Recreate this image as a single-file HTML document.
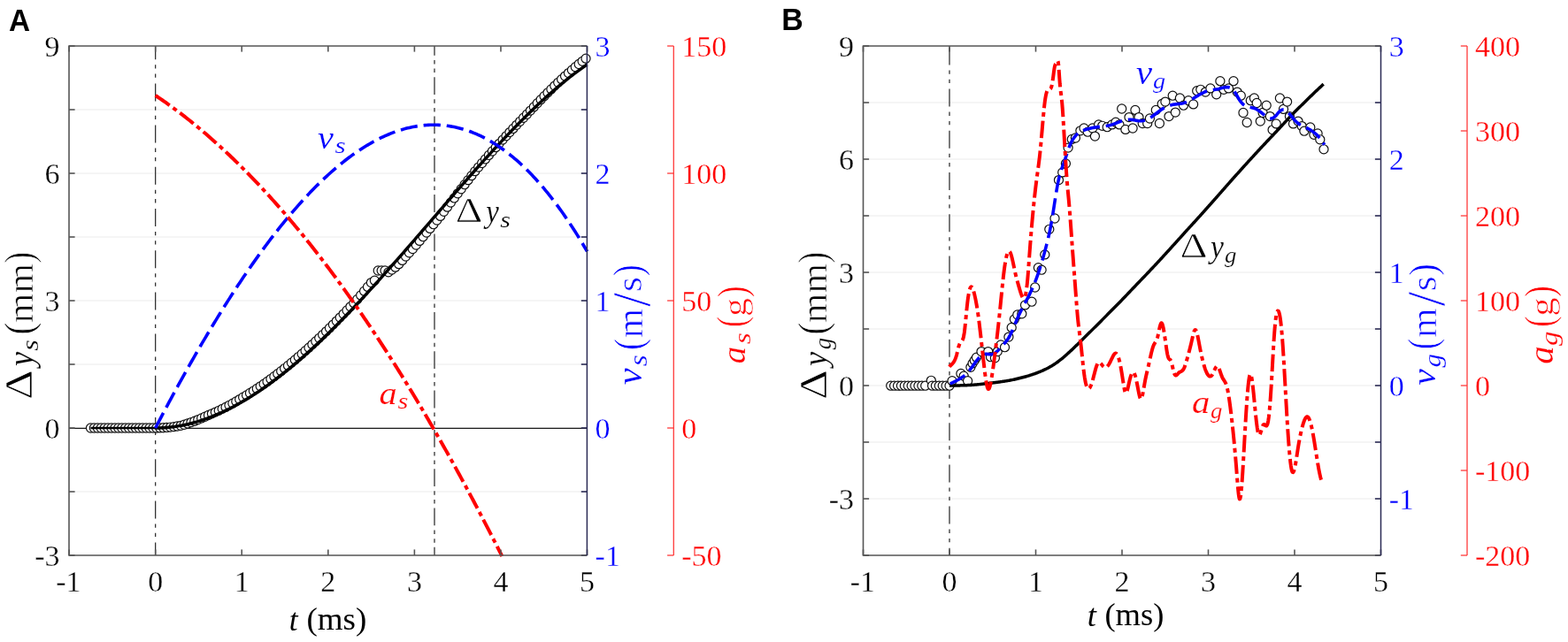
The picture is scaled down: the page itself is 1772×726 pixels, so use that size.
<!DOCTYPE html>
<html><head><meta charset="utf-8"><title>figure</title>
<style>
html,body{margin:0;padding:0;background:#fff;}
svg{display:block;}
.tk{font-family:'Liberation Serif', serif;font-size:34px;stroke:#fff;stroke-width:0.3px;}
.ml{font-family:'Liberation Serif', serif;font-size:38px;}
</style></head><body>
<svg width="1772" height="726" viewBox="0 0 1772 726">
<rect width="1772" height="726" fill="#fff"/>
<line x1="78" y1="556" x2="663.4" y2="556" stroke="#ebebeb" stroke-width="1.2"/>
<line x1="78" y1="484" x2="663.4" y2="484" stroke="#ebebeb" stroke-width="1.2"/>
<line x1="78" y1="412" x2="663.4" y2="412" stroke="#ebebeb" stroke-width="1.2"/>
<line x1="78" y1="340" x2="663.4" y2="340" stroke="#ebebeb" stroke-width="1.2"/>
<line x1="78" y1="268" x2="663.4" y2="268" stroke="#ebebeb" stroke-width="1.2"/>
<line x1="78" y1="196" x2="663.4" y2="196" stroke="#ebebeb" stroke-width="1.2"/>
<line x1="78" y1="124" x2="663.4" y2="124" stroke="#ebebeb" stroke-width="1.2"/>
<line x1="78" y1="484.4" x2="663.4" y2="484.4" stroke="#1a1a1a" stroke-width="1.3"/>
<line x1="175.65" y1="52" x2="175.65" y2="628" stroke="#333" stroke-width="1.3" stroke-dasharray="20 6 4.3 6 4.3 6.6" stroke-dashoffset="4.8"/>
<line x1="491" y1="52" x2="491" y2="628" stroke="#333" stroke-width="1.3" stroke-dasharray="19.8 5.2 4.5 5.2 4.5 5.1" stroke-dashoffset="9.1"/>
<g fill="#fff" stroke="#111" stroke-width="1.2">
<circle cx="102.47" cy="484" r="5.05"/>
<circle cx="106.38" cy="484" r="5.05"/>
<circle cx="110.29" cy="484" r="5.05"/>
<circle cx="114.2" cy="484" r="5.05"/>
<circle cx="118.12" cy="484" r="5.05"/>
<circle cx="122.03" cy="484" r="5.05"/>
<circle cx="125.94" cy="484" r="5.05"/>
<circle cx="129.86" cy="484" r="5.05"/>
<circle cx="133.77" cy="484" r="5.05"/>
<circle cx="137.68" cy="484" r="5.05"/>
<circle cx="141.59" cy="484" r="5.05"/>
<circle cx="145.51" cy="484" r="5.05"/>
<circle cx="149.42" cy="484" r="5.05"/>
<circle cx="153.33" cy="484" r="5.05"/>
<circle cx="157.25" cy="484" r="5.05"/>
<circle cx="161.16" cy="484" r="5.05"/>
<circle cx="165.07" cy="484" r="5.05"/>
<circle cx="168.99" cy="484" r="5.05"/>
<circle cx="172.9" cy="484" r="5.05"/>
<circle cx="176.81" cy="484" r="5.05"/>
<circle cx="180.72" cy="483.91" r="5.05"/>
<circle cx="184.64" cy="483.73" r="5.05"/>
<circle cx="188.55" cy="483.45" r="5.05"/>
<circle cx="192.46" cy="483.07" r="5.05"/>
<circle cx="196.38" cy="482.58" r="5.05"/>
<circle cx="200.29" cy="482.01" r="5.05"/>
<circle cx="204.2" cy="481.33" r="5.05"/>
<circle cx="208.11" cy="480.23" r="5.05"/>
<circle cx="212.03" cy="478.96" r="5.05"/>
<circle cx="215.94" cy="477.6" r="5.05"/>
<circle cx="219.85" cy="476.15" r="5.05"/>
<circle cx="223.77" cy="474.6" r="5.05"/>
<circle cx="227.68" cy="472.96" r="5.05"/>
<circle cx="231.59" cy="471.24" r="5.05"/>
<circle cx="235.51" cy="469.5" r="5.05"/>
<circle cx="239.42" cy="467.85" r="5.05"/>
<circle cx="243.33" cy="466.11" r="5.05"/>
<circle cx="247.24" cy="464.28" r="5.05"/>
<circle cx="251.16" cy="462.37" r="5.05"/>
<circle cx="255.07" cy="460.38" r="5.05"/>
<circle cx="258.98" cy="458.3" r="5.05"/>
<circle cx="262.9" cy="456.14" r="5.05"/>
<circle cx="266.81" cy="453.9" r="5.05"/>
<circle cx="270.72" cy="451.58" r="5.05"/>
<circle cx="274.64" cy="449.23" r="5.05"/>
<circle cx="278.55" cy="446.91" r="5.05"/>
<circle cx="282.46" cy="444.5" r="5.05"/>
<circle cx="286.37" cy="442.03" r="5.05"/>
<circle cx="290.29" cy="439.48" r="5.05"/>
<circle cx="294.2" cy="436.85" r="5.05"/>
<circle cx="298.11" cy="434.16" r="5.05"/>
<circle cx="302.03" cy="431.39" r="5.05"/>
<circle cx="305.94" cy="428.56" r="5.05"/>
<circle cx="309.85" cy="425.66" r="5.05"/>
<circle cx="313.76" cy="422.69" r="5.05"/>
<circle cx="317.68" cy="419.65" r="5.05"/>
<circle cx="321.59" cy="416.56" r="5.05"/>
<circle cx="325.5" cy="413.4" r="5.05"/>
<circle cx="329.42" cy="410.17" r="5.05"/>
<circle cx="333.33" cy="406.89" r="5.05"/>
<circle cx="337.24" cy="403.55" r="5.05"/>
<circle cx="341.16" cy="400.15" r="5.05"/>
<circle cx="345.07" cy="396.69" r="5.05"/>
<circle cx="348.98" cy="393.18" r="5.05"/>
<circle cx="352.89" cy="389.61" r="5.05"/>
<circle cx="356.81" cy="385.99" r="5.05"/>
<circle cx="360.72" cy="382.32" r="5.05"/>
<circle cx="364.63" cy="378.6" r="5.05"/>
<circle cx="368.55" cy="374.84" r="5.05"/>
<circle cx="372.46" cy="371" r="5.05"/>
<circle cx="376.37" cy="367.08" r="5.05"/>
<circle cx="380.29" cy="363.12" r="5.05"/>
<circle cx="384.2" cy="359.11" r="5.05"/>
<circle cx="388.11" cy="355.07" r="5.05"/>
<circle cx="392.02" cy="350.98" r="5.05"/>
<circle cx="395.94" cy="346.85" r="5.05"/>
<circle cx="399.85" cy="342.69" r="5.05"/>
<circle cx="403.76" cy="338.49" r="5.05"/>
<circle cx="407.68" cy="333.93" r="5.05"/>
<circle cx="411.59" cy="329.19" r="5.05"/>
<circle cx="415.5" cy="324.41" r="5.05"/>
<circle cx="419.41" cy="319.61" r="5.05"/>
<circle cx="423.33" cy="317.2" r="5.05"/>
<circle cx="427.24" cy="306" r="5.05"/>
<circle cx="431.15" cy="306" r="5.05"/>
<circle cx="435.07" cy="306" r="5.05"/>
<circle cx="438.98" cy="307.78" r="5.05"/>
<circle cx="442.89" cy="304.98" r="5.05"/>
<circle cx="446.81" cy="302.15" r="5.05"/>
<circle cx="450.72" cy="298.65" r="5.05"/>
<circle cx="454.63" cy="294.38" r="5.05"/>
<circle cx="458.54" cy="290.1" r="5.05"/>
<circle cx="462.46" cy="285.81" r="5.05"/>
<circle cx="466.37" cy="281.51" r="5.05"/>
<circle cx="470.28" cy="277.03" r="5.05"/>
<circle cx="474.2" cy="272.38" r="5.05"/>
<circle cx="478.11" cy="267.72" r="5.05"/>
<circle cx="482.02" cy="263.06" r="5.05"/>
<circle cx="485.93" cy="258.39" r="5.05"/>
<circle cx="489.85" cy="253.72" r="5.05"/>
<circle cx="493.76" cy="249.06" r="5.05"/>
<circle cx="497.67" cy="244.39" r="5.05"/>
<circle cx="501.59" cy="239.27" r="5.05"/>
<circle cx="505.5" cy="234.15" r="5.05"/>
<circle cx="509.41" cy="229.03" r="5.05"/>
<circle cx="513.33" cy="223.93" r="5.05"/>
<circle cx="517.24" cy="218.84" r="5.05"/>
<circle cx="521.15" cy="213.76" r="5.05"/>
<circle cx="525.06" cy="208.7" r="5.05"/>
<circle cx="528.98" cy="203.65" r="5.05"/>
<circle cx="532.89" cy="198.63" r="5.05"/>
<circle cx="536.8" cy="193.63" r="5.05"/>
<circle cx="540.72" cy="189.05" r="5.05"/>
<circle cx="544.63" cy="184.49" r="5.05"/>
<circle cx="548.54" cy="179.96" r="5.05"/>
<circle cx="552.46" cy="175.45" r="5.05"/>
<circle cx="556.37" cy="170.98" r="5.05"/>
<circle cx="560.28" cy="166.64" r="5.05"/>
<circle cx="564.19" cy="162.33" r="5.05"/>
<circle cx="568.11" cy="158.05" r="5.05"/>
<circle cx="572.02" cy="153.81" r="5.05"/>
<circle cx="575.93" cy="149.62" r="5.05"/>
<circle cx="579.85" cy="145.46" r="5.05"/>
<circle cx="583.76" cy="141.35" r="5.05"/>
<circle cx="587.67" cy="137.28" r="5.05"/>
<circle cx="591.58" cy="133.26" r="5.05"/>
<circle cx="595.5" cy="129.27" r="5.05"/>
<circle cx="599.41" cy="125.05" r="5.05"/>
<circle cx="603.32" cy="120.88" r="5.05"/>
<circle cx="607.24" cy="116.77" r="5.05"/>
<circle cx="611.15" cy="112.72" r="5.05"/>
<circle cx="615.06" cy="108.72" r="5.05"/>
<circle cx="618.98" cy="104.79" r="5.05"/>
<circle cx="622.89" cy="100.91" r="5.05"/>
<circle cx="626.8" cy="97.11" r="5.05"/>
<circle cx="630.71" cy="93.37" r="5.05"/>
<circle cx="634.63" cy="89.7" r="5.05"/>
<circle cx="638.54" cy="86.11" r="5.05"/>
<circle cx="642.45" cy="82.59" r="5.05"/>
<circle cx="646.37" cy="79.14" r="5.05"/>
<circle cx="650.28" cy="75.77" r="5.05"/>
<circle cx="654.19" cy="72.48" r="5.05"/>
<circle cx="658.11" cy="69.28" r="5.05"/>
<circle cx="662.02" cy="66.16" r="5.05"/>
</g>
<line x1="102.47" y1="484" x2="175.65" y2="484" stroke="#000" stroke-width="2.6"/>
<polyline points="175.65,484 175.65,484 178.09,483.98 180.53,483.92 182.97,483.82 185.41,483.68 187.85,483.51 190.29,483.29 192.73,483.04 195.17,482.74 197.61,482.41 200.05,482.05 202.48,481.64 204.92,481.2 207.36,480.71 209.8,480.2 212.24,479.64 214.68,479.05 217.12,478.42 219.56,477.76 222,477.06 224.44,476.33 226.88,475.56 229.32,474.75 231.76,473.91 234.2,473.04 236.64,472.13 239.08,471.19 241.52,470.21 243.96,469.2 246.4,468.15 248.84,467.08 251.27,465.97 253.71,464.83 256.15,463.65 258.59,462.45 261.03,461.21 263.47,459.94 265.91,458.64 268.35,457.3 270.79,455.94 273.23,454.55 275.67,453.12 278.11,451.67 280.55,450.19 282.99,448.67 285.43,447.13 287.87,445.56 290.31,443.96 292.75,442.34 295.19,440.68 297.62,439 300.06,437.29 302.5,435.55 304.94,433.79 307.38,432 309.82,430.18 312.26,428.34 314.7,426.47 317.14,424.57 319.58,422.66 322.02,420.71 324.46,418.75 326.9,416.75 329.34,414.74 331.78,412.7 334.22,410.64 336.66,408.55 339.1,406.44 341.54,404.31 343.98,402.16 346.41,399.99 348.85,397.79 351.29,395.58 353.73,393.34 356.17,391.08 358.61,388.81 361.05,386.51 363.49,384.19 365.93,381.86 368.37,379.51 370.81,377.13 373.25,374.75 375.69,372.34 378.13,369.91 380.57,367.47 383.01,365.01 385.45,362.54 387.89,360.05 390.33,357.54 392.77,355.02 395.21,352.48 397.64,349.93 400.08,347.37 402.52,344.79 404.96,342.2 407.4,339.59 409.84,336.97 412.28,334.34 414.72,331.7 417.16,329.05 419.6,326.38 422.04,323.71 424.48,321.02 426.92,318.32 429.36,315.61 431.8,312.9 434.24,310.17 436.68,307.44 439.12,304.7 441.56,301.95 444,299.19 446.43,296.42 448.87,293.65 451.31,290.87 453.75,288.09 456.19,285.3 458.63,282.5 461.07,279.7 463.51,276.9 465.95,274.09 468.39,271.28 470.83,268.47 473.27,265.65 475.71,262.83 478.15,260.01 480.59,257.18 483.03,254.36 485.47,251.53 487.91,248.71 490.35,245.88 492.78,243.05 495.22,240.23 497.66,237.41 500.1,234.58 502.54,231.76 504.98,228.95 507.42,226.13 509.86,223.32 512.3,220.52 514.74,217.71 517.18,214.92 519.62,212.12 522.06,209.34 524.5,206.56 526.94,203.78 529.38,201.01 531.82,198.25 534.26,195.5 536.7,192.76 539.14,190.02 541.58,187.29 544.01,184.58 546.45,181.87 548.89,179.17 551.33,176.49 553.77,173.81 556.21,171.15 558.65,168.5 561.09,165.87 563.53,163.24 565.97,160.63 568.41,158.03 570.85,155.45 573.29,152.89 575.73,150.34 578.17,147.8 580.61,145.28 583.05,142.78 585.49,140.3 587.93,137.83 590.37,135.38 592.8,132.95 595.24,130.55 597.68,128.16 600.12,125.79 602.56,123.44 605,121.11 607.44,118.81 609.88,116.52 612.32,114.26 614.76,112.03 617.2,109.81 619.64,107.62 622.08,105.46 624.52,103.32 626.96,101.21 629.4,99.12 631.84,97.06 634.28,95.03 636.72,93.03 639.15,91.05 641.59,89.1 644.03,87.18 646.47,85.3 648.91,83.44 651.35,81.61 653.79,79.82 656.23,78.05 658.67,76.32 661.11,74.63 663.55,72.96" fill="none" stroke="#000" stroke-width="3.5" stroke-linejoin="round"/>
<polyline points="175.65,484 177.6,480.26 179.55,476.53 181.5,472.81 183.46,469.11 185.41,465.43 187.36,461.75 189.31,458.1 191.26,454.45 193.21,450.83 195.17,447.21 197.12,443.61 199.07,440.03 201.02,436.46 202.97,432.91 204.92,429.37 206.88,425.85 208.83,422.35 210.78,418.86 212.73,415.38 214.68,411.93 216.63,408.49 218.59,405.06 220.54,401.65 222.49,398.26 224.44,394.88 226.39,391.52 228.34,388.18 230.29,384.86 232.25,381.55 234.2,378.26 236.15,374.99 238.1,371.73 240.05,368.49 242,365.27 243.96,362.07 245.91,358.89 247.86,355.72 249.81,352.57 251.76,349.44 253.71,346.33 255.67,343.24 257.62,340.16 259.57,337.11 261.52,334.07 263.47,331.05 265.42,328.05 267.38,325.07 269.33,322.11 271.28,319.17 273.23,316.25 275.18,313.35 277.13,310.47 279.08,307.61 281.04,304.77 282.99,301.94 284.94,299.14 286.89,296.36 288.84,293.6 290.79,290.86 292.75,288.15 294.7,285.45 296.65,282.77 298.6,280.11 300.55,277.48 302.5,274.87 304.46,272.28 306.41,269.71 308.36,267.16 310.31,264.63 312.26,262.13 314.21,259.64 316.17,257.18 318.12,254.74 320.07,252.33 322.02,249.94 323.97,247.57 325.92,245.22 327.87,242.89 329.83,240.59 331.78,238.31 333.73,236.06 335.68,233.82 337.63,231.62 339.58,229.43 341.54,227.27 343.49,225.13 345.44,223.02 347.39,220.93 349.34,218.86 351.29,216.82 353.25,214.8 355.2,212.81 357.15,210.84 359.1,208.9 361.05,206.98 363,205.09 364.96,203.22 366.91,201.38 368.86,199.56 370.81,197.77 372.76,196 374.71,194.26 376.66,192.54 378.62,190.86 380.57,189.19 382.52,187.55 384.47,185.94 386.42,184.36 388.37,182.8 390.33,181.27 392.28,179.77 394.23,178.29 396.18,176.84 398.13,175.41 400.08,174.02 402.04,172.65 403.99,171.31 405.94,169.99 407.89,168.71 409.84,167.45 411.79,166.22 413.75,165.01 415.7,163.84 417.65,162.69 419.6,161.58 421.55,160.49 423.5,159.43 425.45,158.39 427.41,157.39 429.36,156.42 431.31,155.47 433.26,154.56 435.21,153.67 437.16,152.81 439.12,151.98 441.07,151.19 443.02,150.42 444.97,149.68 446.92,148.97 448.87,148.29 450.83,147.64 452.78,147.03 454.73,146.44 456.68,145.88 458.63,145.36 460.58,144.86 462.54,144.4 464.49,143.97 466.44,143.56 468.39,143.19 470.34,142.86 472.29,142.55 474.24,142.27 476.2,142.03 478.15,141.82 480.1,141.64 482.05,141.49 484,141.37 485.95,141.29 487.91,141.24 489.86,141.22 491.81,141.23 493.76,141.28 495.71,141.36 497.66,141.47 499.62,141.62 501.57,141.8 503.52,142.01 505.47,142.26 507.42,142.54 509.37,142.86 511.33,143.2 513.28,143.59 515.23,144 517.18,144.45 519.13,144.94 521.08,145.46 523.03,146.01 524.99,146.6 526.94,147.22 528.89,147.88 530.84,148.57 532.79,149.3 534.74,150.07 536.7,150.87 538.65,151.7 540.6,152.57 542.55,153.48 544.5,154.42 546.45,155.4 548.41,156.41 550.36,157.46 552.31,158.55 554.26,159.67 556.21,160.83 558.16,162.03 560.12,163.26 562.07,164.53 564.02,165.84 565.97,167.18 567.92,168.56 569.87,169.98 571.82,171.44 573.78,172.93 575.73,174.47 577.68,176.04 579.63,177.64 581.58,179.29 583.53,180.97 585.49,182.7 587.44,184.46 589.39,186.26 591.34,188.09 593.29,189.97 595.24,191.89 597.2,193.84 599.15,195.84 601.1,197.87 603.05,199.94 605,202.06 606.95,204.21 608.91,206.4 610.86,208.63 612.81,210.9 614.76,213.21 616.71,215.57 618.66,217.96 620.61,220.39 622.57,222.86 624.52,225.38 626.47,227.93 628.42,230.53 630.37,233.17 632.32,235.84 634.28,238.56 636.23,241.32 638.18,244.12 640.13,246.97 642.08,249.85 644.03,252.78 645.99,255.75 647.94,258.76 649.89,261.81 651.84,264.91 653.79,268.05 655.74,271.23 657.7,274.45 659.65,277.72 661.6,281.03 663.55,284.38" fill="none" stroke="#0000ff" stroke-width="3.6" stroke-dasharray="19.3 6.9"/>
<polyline points="175.65,107.95 177.6,109.25 179.55,110.58 181.5,111.91 183.46,113.25 185.41,114.61 187.36,115.99 189.31,117.37 191.26,118.77 193.21,120.18 195.17,121.6 197.12,123.04 199.07,124.49 201.02,125.95 202.97,127.43 204.92,128.91 206.88,130.41 208.83,131.93 210.78,133.46 212.73,134.99 214.68,136.55 216.63,138.11 218.59,139.69 220.54,141.28 222.49,142.89 224.44,144.5 226.39,146.13 228.34,147.78 230.29,149.43 232.25,151.1 234.2,152.78 236.15,154.48 238.1,156.18 240.05,157.91 242,159.64 243.96,161.38 245.91,163.14 247.86,164.92 249.81,166.7 251.76,168.5 253.71,170.31 255.67,172.13 257.62,173.97 259.57,175.82 261.52,177.68 263.47,179.56 265.42,181.44 267.38,183.34 269.33,185.26 271.28,187.19 273.23,189.13 275.18,191.08 277.13,193.04 279.08,195.02 281.04,197.01 282.99,199.02 284.94,201.03 286.89,203.06 288.84,205.11 290.79,207.16 292.75,209.23 294.7,211.31 296.65,213.41 298.6,215.52 300.55,217.64 302.5,219.77 304.46,221.92 306.41,224.07 308.36,226.25 310.31,228.43 312.26,230.63 314.21,232.84 316.17,235.06 318.12,237.3 320.07,239.55 322.02,241.81 323.97,244.09 325.92,246.38 327.87,248.68 329.83,250.99 331.78,253.32 333.73,255.66 335.68,258.01 337.63,260.37 339.58,262.75 341.54,265.14 343.49,267.55 345.44,269.97 347.39,272.4 349.34,274.84 351.29,277.29 353.25,279.76 355.2,282.25 357.15,284.74 359.1,287.25 361.05,289.77 363,292.3 364.96,294.85 366.91,297.41 368.86,299.98 370.81,302.56 372.76,305.16 374.71,307.77 376.66,310.4 378.62,313.03 380.57,315.68 382.52,318.34 384.47,321.02 386.42,323.71 388.37,326.41 390.33,329.12 392.28,331.85 394.23,334.59 396.18,337.34 398.13,340.11 400.08,342.89 402.04,345.68 403.99,348.48 405.94,351.3 407.89,354.13 409.84,356.97 411.79,359.83 413.75,362.7 415.7,365.58 417.65,368.47 419.6,371.38 421.55,374.3 423.5,377.23 425.45,380.18 427.41,383.14 429.36,386.11 431.31,389.1 433.26,392.09 435.21,395.11 437.16,398.13 439.12,401.17 441.07,404.21 443.02,407.28 444.97,410.35 446.92,413.44 448.87,416.54 450.83,419.66 452.78,422.78 454.73,425.92 456.68,429.08 458.63,432.24 460.58,435.42 462.54,438.61 464.49,441.82 466.44,445.03 468.39,448.26 470.34,451.51 472.29,454.76 474.24,458.03 476.2,461.31 478.15,464.61 480.1,467.91 482.05,471.23 484,474.57 485.95,477.91 487.91,481.27 489.86,484.65 491.81,488.03 493.76,491.43 495.71,494.84 497.66,498.26 499.62,501.7 501.57,505.15 503.52,508.61 505.47,512.09 507.42,515.58 509.37,519.08 511.33,522.59 513.28,526.12 515.23,529.66 517.18,533.21 519.13,536.78 521.08,540.35 523.03,543.95 524.99,547.55 526.94,551.17 528.89,554.8 530.84,558.44 532.79,562.1 534.74,565.77 536.7,569.45 538.65,573.14 540.6,576.85 542.55,580.57 544.5,584.3 546.45,588.05 548.41,591.81 550.36,595.58 552.31,599.37 554.26,603.16 556.21,606.97 558.16,610.8 560.12,614.63 562.07,618.48 564.02,622.35 565.97,626.22 567.36,629" fill="none" stroke="#ff0000" stroke-width="4" stroke-dasharray="19.5 4.8 5 4.7"/>
<line x1="78" y1="628" x2="84.6" y2="628" stroke="#555555" stroke-width="1.6"/>
<line x1="656.8" y1="628" x2="663.4" y2="628" stroke="#2b2b55" stroke-width="1.6"/>
<line x1="78" y1="556" x2="84.6" y2="556" stroke="#555555" stroke-width="1.6"/>
<line x1="656.8" y1="556" x2="663.4" y2="556" stroke="#2b2b55" stroke-width="1.6"/>
<line x1="78" y1="484" x2="84.6" y2="484" stroke="#555555" stroke-width="1.6"/>
<line x1="656.8" y1="484" x2="663.4" y2="484" stroke="#2b2b55" stroke-width="1.6"/>
<line x1="78" y1="412" x2="84.6" y2="412" stroke="#555555" stroke-width="1.6"/>
<line x1="656.8" y1="412" x2="663.4" y2="412" stroke="#2b2b55" stroke-width="1.6"/>
<line x1="78" y1="340" x2="84.6" y2="340" stroke="#555555" stroke-width="1.6"/>
<line x1="656.8" y1="340" x2="663.4" y2="340" stroke="#2b2b55" stroke-width="1.6"/>
<line x1="78" y1="268" x2="84.6" y2="268" stroke="#555555" stroke-width="1.6"/>
<line x1="656.8" y1="268" x2="663.4" y2="268" stroke="#2b2b55" stroke-width="1.6"/>
<line x1="78" y1="196" x2="84.6" y2="196" stroke="#555555" stroke-width="1.6"/>
<line x1="656.8" y1="196" x2="663.4" y2="196" stroke="#2b2b55" stroke-width="1.6"/>
<line x1="78" y1="124" x2="84.6" y2="124" stroke="#555555" stroke-width="1.6"/>
<line x1="656.8" y1="124" x2="663.4" y2="124" stroke="#2b2b55" stroke-width="1.6"/>
<line x1="78" y1="52" x2="84.6" y2="52" stroke="#555555" stroke-width="1.6"/>
<line x1="656.8" y1="52" x2="663.4" y2="52" stroke="#2b2b55" stroke-width="1.6"/>
<line x1="78.07" y1="52" x2="78.07" y2="58.6" stroke="#555555" stroke-width="1.6"/>
<line x1="78.07" y1="621.4" x2="78.07" y2="628" stroke="#555555" stroke-width="1.6"/>
<line x1="175.65" y1="52" x2="175.65" y2="58.6" stroke="#555555" stroke-width="1.6"/>
<line x1="175.65" y1="621.4" x2="175.65" y2="628" stroke="#555555" stroke-width="1.6"/>
<line x1="273.23" y1="52" x2="273.23" y2="58.6" stroke="#555555" stroke-width="1.6"/>
<line x1="273.23" y1="621.4" x2="273.23" y2="628" stroke="#555555" stroke-width="1.6"/>
<line x1="370.81" y1="52" x2="370.81" y2="58.6" stroke="#555555" stroke-width="1.6"/>
<line x1="370.81" y1="621.4" x2="370.81" y2="628" stroke="#555555" stroke-width="1.6"/>
<line x1="468.39" y1="52" x2="468.39" y2="58.6" stroke="#555555" stroke-width="1.6"/>
<line x1="468.39" y1="621.4" x2="468.39" y2="628" stroke="#555555" stroke-width="1.6"/>
<line x1="565.97" y1="52" x2="565.97" y2="58.6" stroke="#555555" stroke-width="1.6"/>
<line x1="565.97" y1="621.4" x2="565.97" y2="628" stroke="#555555" stroke-width="1.6"/>
<line x1="663.55" y1="52" x2="663.55" y2="58.6" stroke="#555555" stroke-width="1.6"/>
<line x1="663.55" y1="621.4" x2="663.55" y2="628" stroke="#555555" stroke-width="1.6"/>
<path d="M663.4,52 H78 V628 H663.4" fill="none" stroke="#555555" stroke-width="1.6"/>
<line x1="663.4" y1="52" x2="663.4" y2="628" stroke="#2b2b55" stroke-width="1.5"/>
<line x1="761.3" y1="52" x2="761.3" y2="628" stroke="#ff3a3a" stroke-width="1.3"/>
<line x1="754.1" y1="52" x2="761.3" y2="52" stroke="#ff3a3a" stroke-width="1.3"/>
<line x1="754.1" y1="196" x2="761.3" y2="196" stroke="#ff3a3a" stroke-width="1.3"/>
<line x1="754.1" y1="340" x2="761.3" y2="340" stroke="#ff3a3a" stroke-width="1.3"/>
<line x1="754.1" y1="484" x2="761.3" y2="484" stroke="#ff3a3a" stroke-width="1.3"/>
<line x1="754.1" y1="628" x2="761.3" y2="628" stroke="#ff3a3a" stroke-width="1.3"/>
<text x="77.47" y="669.3" text-anchor="middle" class="tk">-1</text>
<text x="175.65" y="669.3" text-anchor="middle" class="tk">0</text>
<text x="273.23" y="669.3" text-anchor="middle" class="tk">1</text>
<text x="370.81" y="669.3" text-anchor="middle" class="tk">2</text>
<text x="468.39" y="669.3" text-anchor="middle" class="tk">3</text>
<text x="565.97" y="669.3" text-anchor="middle" class="tk">4</text>
<text x="663.55" y="669.3" text-anchor="middle" class="tk">5</text>
<text x="67.5" y="63.8" text-anchor="end" class="tk">9</text>
<text x="67.5" y="207.8" text-anchor="end" class="tk">6</text>
<text x="67.5" y="351.8" text-anchor="end" class="tk">3</text>
<text x="67.5" y="495.8" text-anchor="end" class="tk">0</text>
<text x="67.5" y="639.8" text-anchor="end" class="tk">-3</text>
<text x="672.6" y="63.8" class="tk" fill="#0000ff">3</text>
<text x="672.6" y="207.8" class="tk" fill="#0000ff">2</text>
<text x="672.6" y="351.8" class="tk" fill="#0000ff">1</text>
<text x="672.6" y="495.8" class="tk" fill="#0000ff">0</text>
<text x="672.6" y="639.8" class="tk" fill="#0000ff">-1</text>
<text x="770.3" y="63.8" class="tk" fill="#ff0000">150</text>
<text x="770.3" y="207.8" class="tk" fill="#ff0000">100</text>
<text x="770.3" y="351.8" class="tk" fill="#ff0000">50</text>
<text x="770.3" y="495.8" class="tk" fill="#ff0000">0</text>
<text x="770.3" y="639.8" class="tk" fill="#ff0000">-50</text>
<line x1="975.5" y1="564" x2="1560.5" y2="564" stroke="#ebebeb" stroke-width="1.2"/>
<line x1="975.5" y1="500" x2="1560.5" y2="500" stroke="#ebebeb" stroke-width="1.2"/>
<line x1="975.5" y1="436" x2="1560.5" y2="436" stroke="#ebebeb" stroke-width="1.2"/>
<line x1="975.5" y1="372" x2="1560.5" y2="372" stroke="#ebebeb" stroke-width="1.2"/>
<line x1="975.5" y1="308" x2="1560.5" y2="308" stroke="#ebebeb" stroke-width="1.2"/>
<line x1="975.5" y1="244" x2="1560.5" y2="244" stroke="#ebebeb" stroke-width="1.2"/>
<line x1="975.5" y1="180" x2="1560.5" y2="180" stroke="#ebebeb" stroke-width="1.2"/>
<line x1="975.5" y1="116" x2="1560.5" y2="116" stroke="#ebebeb" stroke-width="1.2"/>
<line x1="1073" y1="52" x2="1073" y2="628" stroke="#333" stroke-width="1.3" stroke-dasharray="20 6 4.3 6 4.3 6.6" stroke-dashoffset="45.8"/>
<g fill="#fff" stroke="#111" stroke-width="1.2">
<circle cx="1006.7" cy="436.2" r="5.05"/>
<circle cx="1010.6" cy="436.2" r="5.05"/>
<circle cx="1014.5" cy="436.2" r="5.05"/>
<circle cx="1018.4" cy="436.2" r="5.05"/>
<circle cx="1022.3" cy="436.2" r="5.05"/>
<circle cx="1026.2" cy="436.2" r="5.05"/>
<circle cx="1030.1" cy="436.2" r="5.05"/>
<circle cx="1034" cy="436.2" r="5.05"/>
<circle cx="1037.9" cy="436.2" r="5.05"/>
<circle cx="1041.8" cy="436.2" r="5.05"/>
<circle cx="1045.7" cy="436.2" r="5.05"/>
<circle cx="1052.3" cy="430.3" r="5.05"/>
<circle cx="1053.5" cy="436.2" r="5.05"/>
<circle cx="1057.4" cy="436.2" r="5.05"/>
<circle cx="1061.3" cy="436.2" r="5.05"/>
<circle cx="1065.2" cy="436.2" r="5.05"/>
<circle cx="1069.1" cy="436.2" r="5.05"/>
<circle cx="1073" cy="436.2" r="5.05"/>
<circle cx="1076" cy="430.7" r="5.05"/>
<circle cx="1085.9" cy="422.4" r="5.05"/>
<circle cx="1089.2" cy="425.2" r="5.05"/>
<circle cx="1093.6" cy="430.7" r="5.05"/>
<circle cx="1096.9" cy="415.3" r="5.05"/>
<circle cx="1099.1" cy="410.9" r="5.05"/>
<circle cx="1101.3" cy="407.5" r="5.05"/>
<circle cx="1103.5" cy="404.2" r="5.05"/>
<circle cx="1109" cy="397.6" r="5.05"/>
<circle cx="1116.7" cy="397.6" r="5.05"/>
<circle cx="1119.5" cy="403.7" r="5.05"/>
<circle cx="1124.4" cy="404.8" r="5.05"/>
<circle cx="1127.2" cy="397.6" r="5.05"/>
<circle cx="1131" cy="389.9" r="5.05"/>
<circle cx="1135.5" cy="392.7" r="5.05"/>
<circle cx="1139.9" cy="381.1" r="5.05"/>
<circle cx="1143.2" cy="370.4" r="5.05"/>
<circle cx="1146.4" cy="360.9" r="5.05"/>
<circle cx="1149.8" cy="356" r="5.05"/>
<circle cx="1154.8" cy="354.8" r="5.05"/>
<circle cx="1158.5" cy="344.9" r="5.05"/>
<circle cx="1166" cy="341.2" r="5.05"/>
<circle cx="1169.7" cy="325" r="5.05"/>
<circle cx="1173.4" cy="302.7" r="5.05"/>
<circle cx="1177.1" cy="305.2" r="5.05"/>
<circle cx="1180.8" cy="287.9" r="5.05"/>
<circle cx="1185.8" cy="259.3" r="5.05"/>
<circle cx="1192" cy="247" r="5.05"/>
<circle cx="1196.5" cy="203.6" r="5.05"/>
<circle cx="1200.7" cy="194.9" r="5.05"/>
<circle cx="1204.4" cy="185" r="5.05"/>
<circle cx="1207.1" cy="167.1" r="5.05"/>
<circle cx="1211.3" cy="157.4" r="5.05"/>
<circle cx="1215.4" cy="156" r="5.05"/>
<circle cx="1220.9" cy="147.8" r="5.05"/>
<circle cx="1225" cy="145" r="5.05"/>
<circle cx="1229.2" cy="149.2" r="5.05"/>
<circle cx="1234.7" cy="145" r="5.05"/>
<circle cx="1237.4" cy="154.1" r="5.05"/>
<circle cx="1241.6" cy="140.9" r="5.05"/>
<circle cx="1245.7" cy="142.3" r="5.05"/>
<circle cx="1251.2" cy="143.7" r="5.05"/>
<circle cx="1256.7" cy="140.9" r="5.05"/>
<circle cx="1260.9" cy="138.2" r="5.05"/>
<circle cx="1265" cy="140.9" r="5.05"/>
<circle cx="1267.7" cy="123" r="5.05"/>
<circle cx="1271.9" cy="146.4" r="5.05"/>
<circle cx="1276" cy="132.6" r="5.05"/>
<circle cx="1280.1" cy="145" r="5.05"/>
<circle cx="1282.9" cy="124.4" r="5.05"/>
<circle cx="1287" cy="132.6" r="5.05"/>
<circle cx="1291.2" cy="139.5" r="5.05"/>
<circle cx="1296.7" cy="139.5" r="5.05"/>
<circle cx="1299.4" cy="134" r="5.05"/>
<circle cx="1306.3" cy="124.4" r="5.05"/>
<circle cx="1310.4" cy="139.5" r="5.05"/>
<circle cx="1313.2" cy="117.5" r="5.05"/>
<circle cx="1316.9" cy="115.1" r="5.05"/>
<circle cx="1321" cy="131.6" r="5.05"/>
<circle cx="1325.2" cy="108.2" r="5.05"/>
<circle cx="1328.3" cy="127.1" r="5.05"/>
<circle cx="1333.4" cy="111" r="5.05"/>
<circle cx="1337.5" cy="119.2" r="5.05"/>
<circle cx="1343.1" cy="113.7" r="5.05"/>
<circle cx="1348.6" cy="117.9" r="5.05"/>
<circle cx="1352.7" cy="102.7" r="5.05"/>
<circle cx="1356.8" cy="101.3" r="5.05"/>
<circle cx="1362.3" cy="104.1" r="5.05"/>
<circle cx="1367.9" cy="99.9" r="5.05"/>
<circle cx="1374.7" cy="106.8" r="5.05"/>
<circle cx="1378.9" cy="91.7" r="5.05"/>
<circle cx="1383" cy="101.3" r="5.05"/>
<circle cx="1388.5" cy="99.9" r="5.05"/>
<circle cx="1394" cy="91.7" r="5.05"/>
<circle cx="1398.2" cy="104.1" r="5.05"/>
<circle cx="1402.3" cy="108.2" r="5.05"/>
<circle cx="1405" cy="127.5" r="5.05"/>
<circle cx="1409.2" cy="138.5" r="5.05"/>
<circle cx="1413.3" cy="113.7" r="5.05"/>
<circle cx="1417.4" cy="111" r="5.05"/>
<circle cx="1420.2" cy="116.5" r="5.05"/>
<circle cx="1424.3" cy="137.1" r="5.05"/>
<circle cx="1427.1" cy="127.5" r="5.05"/>
<circle cx="1431.2" cy="119.2" r="5.05"/>
<circle cx="1435.3" cy="131.6" r="5.05"/>
<circle cx="1438.1" cy="146.8" r="5.05"/>
<circle cx="1442.2" cy="139.9" r="5.05"/>
<circle cx="1446.4" cy="111" r="5.05"/>
<circle cx="1450.5" cy="123.4" r="5.05"/>
<circle cx="1454.6" cy="115.1" r="5.05"/>
<circle cx="1457.4" cy="131.6" r="5.05"/>
<circle cx="1461.5" cy="139.9" r="5.05"/>
<circle cx="1467" cy="137.1" r="5.05"/>
<circle cx="1471.2" cy="142.6" r="5.05"/>
<circle cx="1473.9" cy="148.2" r="5.05"/>
<circle cx="1480.8" cy="144" r="5.05"/>
<circle cx="1484.9" cy="152.3" r="5.05"/>
<circle cx="1489.1" cy="150.9" r="5.05"/>
<circle cx="1491.8" cy="157.8" r="5.05"/>
<circle cx="1496" cy="168.8" r="5.05"/>
</g>
<polyline points="1073,436 1073.7,436 1074.7,436 1075.7,436 1076.7,435.99 1077.7,435.99 1078.7,435.98 1079.7,435.97 1080.7,435.96 1081.7,435.95 1082.7,435.93 1083.7,435.92 1084.7,435.9 1085.7,435.87 1086.7,435.85 1087.7,435.82 1088.7,435.79 1089.7,435.76 1090.7,435.73 1091.7,435.69 1092.7,435.65 1093.7,435.6 1094.7,435.56 1095.7,435.5 1096.7,435.45 1097.7,435.39 1098.7,435.32 1099.7,435.25 1100.7,435.18 1101.7,435.1 1102.7,435.01 1103.7,434.92 1104.7,434.83 1105.7,434.73 1106.7,434.63 1107.7,434.52 1108.7,434.42 1109.7,434.31 1110.7,434.2 1111.7,434.08 1112.7,433.96 1113.7,433.85 1114.7,433.73 1115.7,433.62 1116.7,433.5 1117.7,433.38 1118.7,433.27 1119.7,433.15 1120.7,433.03 1121.7,432.92 1122.7,432.8 1123.7,432.68 1124.7,432.56 1125.7,432.44 1126.7,432.32 1127.7,432.19 1128.7,432.06 1129.7,431.92 1130.7,431.78 1131.7,431.64 1132.7,431.5 1133.7,431.35 1134.7,431.19 1135.7,431.04 1136.7,430.87 1137.7,430.71 1138.7,430.54 1139.7,430.36 1140.7,430.18 1141.7,429.99 1142.7,429.8 1143.7,429.6 1144.7,429.39 1145.7,429.17 1146.7,428.94 1147.7,428.71 1148.7,428.47 1149.7,428.22 1150.7,427.99 1151.7,427.76 1152.7,427.52 1153.7,427.28 1154.7,427.03 1155.7,426.78 1156.7,426.52 1157.7,426.25 1158.7,425.97 1159.7,425.69 1160.7,425.4 1161.7,425.11 1162.7,424.81 1163.7,424.5 1164.7,424.18 1165.7,423.86 1166.7,423.53 1167.7,423.19 1168.7,422.85 1169.7,422.5 1170.7,422.13 1171.7,421.76 1172.7,421.38 1173.7,420.99 1174.7,420.59 1175.7,420.17 1176.7,419.75 1177.7,419.32 1178.7,418.87 1179.7,418.42 1180.7,417.95 1181.7,417.46 1182.7,416.97 1183.7,416.46 1184.7,415.93 1185.7,415.4 1186.7,414.84 1187.7,414.27 1188.7,413.68 1189.7,413.07 1190.7,412.45 1191.7,411.8 1192.7,411.12 1193.7,410.43 1194.7,409.71 1195.7,408.98 1196.7,408.22 1197.7,407.46 1198.7,406.68 1199.7,405.9 1200.7,405.07 1201.7,404.22 1202.7,403.36 1203.7,402.49 1204.7,401.61 1205.7,400.72 1206.7,399.81 1207.7,398.9 1208.7,397.98 1209.7,397.05 1210.7,396.11 1211.7,395.17 1212.7,394.22 1213.7,393.26 1214.7,392.3 1215.7,391.34 1216.7,390.37 1217.7,389.4 1218.7,388.43 1219.7,387.45 1220.7,386.48 1221.7,385.49 1222.7,384.51 1223.7,383.53 1224.7,382.54 1225.7,381.55 1226.7,380.57 1227.7,379.58 1228.7,378.59 1229.7,377.59 1230.7,376.6 1231.7,375.61 1232.7,374.62 1233.7,373.62 1234.7,372.63 1235.7,371.63 1236.7,370.63 1237.7,369.64 1238.7,368.64 1239.7,367.64 1240.7,366.64 1241.7,365.64 1242.7,364.64 1243.7,363.64 1244.7,362.64 1245.7,361.63 1246.7,360.63 1247.7,359.63 1248.7,358.62 1249.7,357.62 1250.7,356.61 1251.7,355.61 1252.7,354.6 1253.7,353.6 1254.7,352.59 1255.7,351.58 1256.7,350.57 1257.7,349.56 1258.7,348.55 1259.7,347.54 1260.7,346.53 1261.7,345.51 1262.7,344.5 1263.7,343.48 1264.7,342.46 1265.7,341.44 1266.7,340.41 1267.7,339.36 1268.7,338.32 1269.7,337.28 1270.7,336.23 1271.7,335.19 1272.7,334.14 1273.7,333.09 1274.7,332.05 1275.7,331 1276.7,329.95 1277.7,328.91 1278.7,327.86 1279.7,326.81 1280.7,325.76 1281.7,324.72 1282.7,323.67 1283.7,322.62 1284.7,321.58 1285.7,320.53 1286.7,319.49 1287.7,318.45 1288.7,317.4 1289.7,316.36 1290.7,315.32 1291.7,314.27 1292.7,313.23 1293.7,312.18 1294.7,311.14 1295.7,310.09 1296.7,309.04 1297.7,307.99 1298.7,306.94 1299.7,305.88 1300.7,304.83 1301.7,303.77 1302.7,302.71 1303.7,301.65 1304.7,300.58 1305.7,299.51 1306.7,298.44 1307.7,297.37 1308.7,296.29 1309.7,295.21 1310.7,294.13 1311.7,293.05 1312.7,291.96 1313.7,290.87 1314.7,289.78 1315.7,288.69 1316.7,287.6 1317.7,286.5 1318.7,285.4 1319.7,284.3 1320.7,283.2 1321.7,282.1 1322.7,281 1323.7,279.89 1324.7,278.79 1325.7,277.68 1326.7,276.58 1327.7,275.47 1328.7,274.36 1329.7,273.25 1330.7,272.14 1331.7,271.04 1332.7,269.93 1333.7,268.82 1334.7,267.71 1335.7,266.6 1336.7,265.49 1337.7,264.37 1338.7,263.26 1339.7,262.15 1340.7,261.03 1341.7,259.94 1342.7,258.85 1343.7,257.77 1344.7,256.68 1345.7,255.59 1346.7,254.49 1347.7,253.4 1348.7,252.3 1349.7,251.2 1350.7,250.1 1351.7,249 1352.7,247.9 1353.7,246.79 1354.7,245.68 1355.7,244.57 1356.7,243.46 1357.7,242.35 1358.7,241.23 1359.7,240.12 1360.7,239 1361.7,237.88 1362.7,236.75 1363.7,235.63 1364.7,234.5 1365.7,233.38 1366.7,232.25 1367.7,231.12 1368.7,230 1369.7,228.87 1370.7,227.74 1371.7,226.61 1372.7,225.48 1373.7,224.35 1374.7,223.22 1375.7,222.08 1376.7,220.95 1377.7,219.82 1378.7,218.68 1379.7,217.55 1380.7,216.41 1381.7,215.28 1382.7,214.14 1383.7,213 1384.7,211.86 1385.7,210.72 1386.7,209.58 1387.7,208.44 1388.7,207.3 1389.7,206.16 1390.7,205.03 1391.7,203.89 1392.7,202.76 1393.7,201.63 1394.7,200.51 1395.7,199.39 1396.7,198.27 1397.7,197.16 1398.7,196.05 1399.7,194.95 1400.7,193.84 1401.7,192.72 1402.7,191.6 1403.7,190.49 1404.7,189.38 1405.7,188.28 1406.7,187.17 1407.7,186.07 1408.7,184.98 1409.7,183.88 1410.7,182.78 1411.7,181.68 1412.7,180.59 1413.7,179.49 1414.7,178.4 1415.7,177.31 1416.7,176.22 1417.7,175.12 1418.7,174.04 1419.7,172.95 1420.7,171.87 1421.7,170.78 1422.7,169.7 1423.7,168.63 1424.7,167.55 1425.7,166.48 1426.7,165.4 1427.7,164.33 1428.7,163.26 1429.7,162.2 1430.7,161.13 1431.7,160.07 1432.7,159.01 1433.7,157.95 1434.7,156.89 1435.7,155.83 1436.7,154.78 1437.7,153.72 1438.7,152.67 1439.7,151.61 1440.7,150.56 1441.7,149.5 1442.7,148.44 1443.7,147.37 1444.7,146.3 1445.7,145.22 1446.7,144.14 1447.7,143.06 1448.7,141.98 1449.7,140.9 1450.7,139.82 1451.7,138.74 1452.7,137.66 1453.7,136.58 1454.7,135.5 1455.7,134.43 1456.7,133.36 1457.7,132.29 1458.7,131.22 1459.7,130.16 1460.7,129.13 1461.7,128.11 1462.7,127.1 1463.7,126.09 1464.7,125.09 1465.7,124.09 1466.7,123.09 1467.7,122.1 1468.7,121.11 1469.7,120.12 1470.7,119.13 1471.7,118.14 1472.7,117.15 1473.7,116.17 1474.7,115.19 1475.7,114.21 1476.7,113.23 1477.7,112.26 1478.7,111.29 1479.7,110.31 1480.7,109.35 1481.7,108.38 1482.7,107.41 1483.7,106.45 1484.7,105.49 1485.7,104.53 1486.7,103.58 1487.7,102.62 1488.7,101.67 1489.7,100.73 1490.7,99.79 1491.7,98.85 1492.7,97.92 1493.7,96.99 1494.7,96.06 1495.7,95.14" fill="none" stroke="#000" stroke-width="3.5" stroke-linejoin="round"/>
<polyline points="1073.7,434 1074.7,433.49 1075.7,432.99 1076.7,432.5 1077.7,432.01 1078.7,431.52 1079.7,431.02 1080.7,430.52 1081.7,430 1082.7,429.46 1083.7,428.9 1084.7,428.31 1085.7,427.69 1086.7,427.03 1087.7,426.34 1088.7,425.59 1089.7,424.8 1090.7,423.95 1091.7,423.04 1092.7,422.07 1093.7,421.03 1094.7,419.91 1095.7,418.72 1096.7,417.46 1097.7,416.12 1098.7,414.74 1099.7,413.34 1100.7,411.92 1101.7,410.52 1102.7,409.14 1103.7,407.81 1104.7,406.55 1105.7,405.37 1106.7,404.3 1107.7,403.35 1108.7,402.52 1109.7,401.83 1110.7,401.26 1111.7,400.83 1112.7,400.53 1113.7,400.37 1114.7,400.33 1115.7,400.38 1116.7,400.48 1117.7,400.6 1118.7,400.71 1119.7,400.76 1120.7,400.71 1121.7,400.54 1122.7,400.21 1123.7,399.71 1124.7,399.06 1125.7,398.29 1126.7,397.43 1127.7,396.49 1128.7,395.5 1129.7,394.48 1130.7,393.44 1131.7,392.37 1132.7,391.27 1133.7,390.13 1134.7,388.95 1135.7,387.74 1136.7,386.47 1137.7,385.15 1138.7,383.75 1139.7,382.22 1140.7,380.54 1141.7,378.67 1142.7,376.64 1143.7,374.45 1144.7,372.16 1145.7,369.8 1146.7,367.39 1147.7,364.97 1148.7,362.57 1149.7,360.23 1150.7,357.97 1151.7,355.8 1152.7,353.7 1153.7,351.66 1154.7,349.67 1155.7,347.72 1156.7,345.8 1157.7,343.91 1158.7,342.02 1159.7,340.13 1160.7,338.23 1161.7,336.31 1162.7,334.36 1163.7,332.36 1164.7,330.31 1165.7,328.2 1166.7,326.01 1167.7,323.74 1168.7,321.37 1169.7,318.9 1170.7,316.31 1171.7,313.61 1172.7,310.8 1173.7,307.88 1174.7,304.85 1175.7,301.71 1176.7,298.46 1177.7,295.12 1178.7,291.67 1179.7,288.12 1180.7,284.47 1181.7,280.72 1182.7,276.88 1183.7,272.91 1184.7,268.74 1185.7,264.31 1186.7,259.56 1187.7,254.43 1188.7,248.85 1189.7,242.82 1190.7,236.49 1191.7,230.04 1192.7,223.62 1193.7,217.4 1194.7,211.55 1195.7,206.24 1196.7,201.62 1197.7,197.67 1198.7,194.26 1199.7,191.24 1200.7,188.46 1201.7,185.78 1202.7,183.05 1203.7,180.14 1204.7,177.06 1205.7,173.92 1206.7,170.83 1207.7,167.88 1208.7,165.19 1209.7,162.81 1210.7,160.72 1211.7,158.88 1212.7,157.24 1213.7,155.79 1214.7,154.49 1215.7,153.33 1216.7,152.31 1217.7,151.41 1218.7,150.62 1219.7,149.91 1220.7,149.3 1221.7,148.75 1222.7,148.25 1223.7,147.8 1224.7,147.38 1225.7,146.99 1226.7,146.63 1227.7,146.29 1228.7,145.98 1229.7,145.69 1230.7,145.42 1231.7,145.17 1232.7,144.94 1233.7,144.73 1234.7,144.54 1235.7,144.36 1236.7,144.19 1237.7,144.04 1238.7,143.9 1239.7,143.76 1240.7,143.64 1241.7,143.52 1242.7,143.4 1243.7,143.29 1244.7,143.17 1245.7,143.05 1246.7,142.93 1247.7,142.8 1248.7,142.66 1249.7,142.5 1250.7,142.34 1251.7,142.15 1252.7,141.95 1253.7,141.72 1254.7,141.48 1255.7,141.2 1256.7,140.9 1257.7,140.57 1258.7,140.21 1259.7,139.84 1260.7,139.45 1261.7,139.05 1262.7,138.65 1263.7,138.26 1264.7,137.87 1265.7,137.49 1266.7,137.13 1267.7,136.8 1268.7,136.5 1269.7,136.22 1270.7,135.98 1271.7,135.78 1272.7,135.61 1273.7,135.47 1274.7,135.37 1275.7,135.32 1276.7,135.3 1277.7,135.32 1278.7,135.39 1279.7,135.5 1280.7,135.65 1281.7,135.82 1282.7,136 1283.7,136.19 1284.7,136.37 1285.7,136.53 1286.7,136.67 1287.7,136.77 1288.7,136.81 1289.7,136.8 1290.7,136.73 1291.7,136.58 1292.7,136.37 1293.7,136.1 1294.7,135.76 1295.7,135.37 1296.7,134.93 1297.7,134.43 1298.7,133.89 1299.7,133.3 1300.7,132.67 1301.7,131.99 1302.7,131.29 1303.7,130.55 1304.7,129.8 1305.7,129.03 1306.7,128.25 1307.7,127.47 1308.7,126.7 1309.7,125.93 1310.7,125.19 1311.7,124.47 1312.7,123.78 1313.7,123.13 1314.7,122.51 1315.7,121.92 1316.7,121.37 1317.7,120.86 1318.7,120.39 1319.7,119.96 1320.7,119.57 1321.7,119.23 1322.7,118.93 1323.7,118.67 1324.7,118.46 1325.7,118.28 1326.7,118.12 1327.7,117.99 1328.7,117.87 1329.7,117.76 1330.7,117.66 1331.7,117.55 1332.7,117.43 1333.7,117.29 1334.7,117.13 1335.7,116.94 1336.7,116.71 1337.7,116.44 1338.7,116.13 1339.7,115.77 1340.7,115.37 1341.7,114.94 1342.7,114.47 1343.7,113.98 1344.7,113.46 1345.7,112.91 1346.7,112.35 1347.7,111.77 1348.7,111.18 1349.7,110.57 1350.7,109.97 1351.7,109.36 1352.7,108.75 1353.7,108.14 1354.7,107.55 1355.7,106.96 1356.7,106.39 1357.7,105.84 1358.7,105.32 1359.7,104.81 1360.7,104.34 1361.7,103.9 1362.7,103.5 1363.7,103.13 1364.7,102.82 1365.7,102.54 1366.7,102.31 1367.7,102.12 1368.7,101.95 1369.7,101.8 1370.7,101.67 1371.7,101.54 1372.7,101.4 1373.7,101.25 1374.7,101.08 1375.7,100.89 1376.7,100.66 1377.7,100.39 1378.7,100.11 1379.7,99.82 1380.7,99.53 1381.7,99.26 1382.7,99.02 1383.7,98.81 1384.7,98.67 1385.7,98.58 1386.7,98.58 1387.7,98.66 1388.7,98.85 1389.7,99.16 1390.7,99.61 1391.7,100.22 1392.7,101 1393.7,101.97 1394.7,103.14 1395.7,104.54 1396.7,106.15 1397.7,107.88 1398.7,109.63 1399.7,111.33 1400.7,112.91 1401.7,114.35 1402.7,115.65 1403.7,116.81 1404.7,117.82 1405.7,118.69 1406.7,119.4 1407.7,119.96 1408.7,120.39 1409.7,120.72 1410.7,120.97 1411.7,121.17 1412.7,121.34 1413.7,121.5 1414.7,121.68 1415.7,121.9 1416.7,122.18 1417.7,122.53 1418.7,122.95 1419.7,123.44 1420.7,123.99 1421.7,124.59 1422.7,125.25 1423.7,125.95 1424.7,126.71 1425.7,127.5 1426.7,128.33 1427.7,129.18 1428.7,130.02 1429.7,130.83 1430.7,131.6 1431.7,132.3 1432.7,132.91 1433.7,133.41 1434.7,133.77 1435.7,133.98 1436.7,134.02 1437.7,133.86 1438.7,133.48 1439.7,132.86 1440.7,132 1441.7,130.96 1442.7,129.82 1443.7,128.62 1444.7,127.45 1445.7,126.36 1446.7,125.42 1447.7,124.7 1448.7,124.25 1449.7,124.06 1450.7,124.11 1451.7,124.37 1452.7,124.84 1453.7,125.48 1454.7,126.27 1455.7,127.2 1456.7,128.24 1457.7,129.36 1458.7,130.54 1459.7,131.76 1460.7,132.99 1461.7,134.21 1462.7,135.38 1463.7,136.48 1464.7,137.49 1465.7,138.4 1466.7,139.22 1467.7,139.95 1468.7,140.61 1469.7,141.22 1470.7,141.77 1471.7,142.29 1472.7,142.77 1473.7,143.25 1474.7,143.72 1475.7,144.19 1476.7,144.68 1477.7,145.19 1478.7,145.72 1479.7,146.27 1480.7,146.86 1481.7,147.48 1482.7,148.14 1483.7,148.85 1484.7,149.59 1485.7,150.39 1486.7,151.25 1487.7,152.16 1488.7,153.14 1489.7,154.18 1490.7,155.29 1491.7,156.48 1492.7,157.75 1493.7,159.1 1494.7,160.53 1495.7,162.06 1496.7,163.68" fill="none" stroke="#0000ff" stroke-width="3.6" stroke-dasharray="19.3 6.9"/>
<polyline points="1072.8,414.8 1073.3,414.23 1073.8,413.71 1074.3,413.23 1074.8,412.76 1075.3,412.29 1075.8,411.8 1076.3,411.28 1076.8,410.71 1077.3,410.07 1077.8,409.35 1078.3,408.53 1078.8,407.59 1079.3,406.52 1079.8,405.3 1080.3,403.91 1080.8,402.34 1081.3,400.57 1081.8,398.59 1082.3,396.47 1082.8,394.36 1083.3,392.38 1083.8,390.69 1084.3,389.36 1084.8,388.34 1085.3,387.55 1085.8,386.91 1086.3,386.37 1086.8,385.83 1087.3,385.22 1087.8,384.43 1088.3,383.27 1088.8,381.58 1089.3,379.19 1089.8,375.95 1090.3,371.9 1090.8,367.26 1091.3,362.22 1091.8,357.01 1092.3,351.82 1092.8,346.87 1093.3,342.35 1093.8,338.37 1094.3,334.89 1094.8,331.93 1095.3,329.46 1095.8,327.49 1096.3,326 1096.8,324.98 1097.3,324.43 1097.8,324.32 1098.3,324.64 1098.8,325.33 1099.3,326.36 1099.8,327.69 1100.3,329.29 1100.8,331.12 1101.3,333.14 1101.8,335.33 1102.3,337.66 1102.8,340.14 1103.3,342.8 1103.8,345.63 1104.3,348.65 1104.8,351.87 1105.3,355.3 1105.8,358.94 1106.3,362.77 1106.8,366.77 1107.3,370.91 1107.8,375.18 1108.3,379.55 1108.8,383.99 1109.3,388.5 1109.8,393.03 1110.3,397.58 1110.8,402.11 1111.3,406.61 1111.8,411.06 1112.3,415.4 1112.8,419.58 1113.3,423.54 1113.8,427.22 1114.3,430.56 1114.8,433.5 1115.3,435.97 1115.8,437.93 1116.3,439.3 1116.8,440.04 1117.3,440.08 1117.8,439.47 1118.3,438.28 1118.8,436.58 1119.3,434.44 1119.8,431.95 1120.3,429.17 1120.8,426.18 1121.3,423.02 1121.8,419.69 1122.3,416.22 1122.8,412.62 1123.3,408.91 1123.8,405.11 1124.3,401.22 1124.8,397.25 1125.3,393.22 1125.8,389.11 1126.3,384.91 1126.8,380.64 1127.3,376.28 1127.8,371.82 1128.3,367.28 1128.8,362.64 1129.3,357.9 1129.8,353.06 1130.3,348.12 1130.8,343.1 1131.3,338.05 1131.8,333 1132.3,328.02 1132.8,323.13 1133.3,318.4 1133.8,313.85 1134.3,309.55 1134.8,305.52 1135.3,301.82 1135.8,298.47 1136.3,295.47 1136.8,292.81 1137.3,290.51 1137.8,288.55 1138.3,286.95 1138.8,285.71 1139.3,284.82 1139.8,284.29 1140.3,284.11 1140.8,284.3 1141.3,284.85 1141.8,285.75 1142.3,286.99 1142.8,288.51 1143.3,290.28 1143.8,292.26 1144.3,294.4 1144.8,296.67 1145.3,299.03 1145.8,301.42 1146.3,303.82 1146.8,306.18 1147.3,308.46 1147.8,310.62 1148.3,312.67 1148.8,314.62 1149.3,316.5 1149.8,318.32 1150.3,320.1 1150.8,321.85 1151.3,323.6 1151.8,325.35 1152.3,327.07 1152.8,328.76 1153.3,330.37 1153.8,331.9 1154.3,333.31 1154.8,334.56 1155.3,335.61 1155.8,336.42 1156.3,336.94 1156.8,337.13 1157.3,336.95 1157.8,336.36 1158.3,335.31 1158.8,333.75 1159.3,331.6 1159.8,328.79 1160.3,325.24 1160.8,320.88 1161.3,315.66 1161.8,309.67 1162.3,303.13 1162.8,296.28 1163.3,289.35 1163.8,282.55 1164.3,275.98 1164.8,269.64 1165.3,263.51 1165.8,257.58 1166.3,251.85 1166.8,246.31 1167.3,240.94 1167.8,235.74 1168.3,230.72 1168.8,225.87 1169.3,221.19 1169.8,216.7 1170.3,212.38 1170.8,208.25 1171.3,204.3 1171.8,200.53 1172.3,196.87 1172.8,193.24 1173.3,189.59 1173.8,185.82 1174.3,181.87 1174.8,177.66 1175.3,173.12 1175.8,168.19 1176.3,162.88 1176.8,157.29 1177.3,151.54 1177.8,145.71 1178.3,139.91 1178.8,134.24 1179.3,128.8 1179.8,123.7 1180.3,119.02 1180.8,114.88 1181.3,111.37 1181.8,108.5 1182.3,106.2 1182.8,104.41 1183.3,103.07 1183.8,102.12 1184.3,101.49 1184.8,101.12 1185.3,100.95 1185.8,100.89 1186.3,100.82 1186.8,100.62 1187.3,100.17 1187.8,99.34 1188.3,98.02 1188.8,96.08 1189.3,93.4 1189.8,89.99 1190.3,86.17 1190.8,82.29 1191.3,78.69 1191.8,75.73 1192.3,73.73 1192.8,72.61 1193.3,71.96 1193.8,71.39 1194.3,70.47 1194.8,69.25 1195.3,68.7 1195.8,69.93 1196.3,74.04 1196.8,80.84 1197.3,88.46 1197.8,95.04 1198.3,100.11 1198.8,104.24 1199.3,108.06 1199.8,112.18 1200.3,117.21 1200.8,123.51 1201.3,130.89 1201.8,139.05 1202.3,147.73 1202.8,156.63 1203.3,165.5 1203.8,174.14 1204.3,182.45 1204.8,190.32 1205.3,197.64 1205.8,204.3 1206.3,210.26 1206.8,215.73 1207.3,220.98 1207.8,226.28 1208.3,231.9 1208.8,237.97 1209.3,244.41 1209.8,251.14 1210.3,258.07 1210.8,265.11 1211.3,272.18 1211.8,279.2 1212.3,286.1 1212.8,292.88 1213.3,299.59 1213.8,306.23 1214.3,312.85 1214.8,319.47 1215.3,326.13 1215.8,332.83 1216.3,339.5 1216.8,346.01 1217.3,352.19 1217.8,357.89 1218.3,362.97 1218.8,367.48 1219.3,371.58 1219.8,375.46 1220.3,379.3 1220.8,383.27 1221.3,387.54 1221.8,392.08 1222.3,396.8 1222.8,401.62 1223.3,406.42 1223.8,411.13 1224.3,415.64 1224.8,419.86 1225.3,423.7 1225.8,427.08 1226.3,430.01 1226.8,432.5 1227.3,434.58 1227.8,436.26 1228.3,437.57 1228.8,438.53 1229.3,439.16 1229.8,439.48 1230.3,439.51 1230.8,439.28 1231.3,438.79 1231.8,438.08 1232.3,437.16 1232.8,436.04 1233.3,434.75 1233.8,433.3 1234.3,431.72 1234.8,430.01 1235.3,428.2 1235.8,426.31 1236.3,424.37 1236.8,422.42 1237.3,420.48 1237.8,418.61 1238.3,416.82 1238.8,415.16 1239.3,413.67 1239.8,412.37 1240.3,411.3 1240.8,410.5 1241.3,409.99 1241.8,409.75 1242.3,409.74 1242.8,409.93 1243.3,410.28 1243.8,410.75 1244.3,411.32 1244.8,411.94 1245.3,412.59 1245.8,413.22 1246.3,413.8 1246.8,414.3 1247.3,414.72 1247.8,415.04 1248.3,415.27 1248.8,415.4 1249.3,415.42 1249.8,415.33 1250.3,415.14 1250.8,414.83 1251.3,414.4 1251.8,413.87 1252.3,413.24 1252.8,412.52 1253.3,411.73 1253.8,410.87 1254.3,409.95 1254.8,408.98 1255.3,407.97 1255.8,406.94 1256.3,405.89 1256.8,404.83 1257.3,403.8 1257.8,402.82 1258.3,401.91 1258.8,401.11 1259.3,400.43 1259.8,399.92 1260.3,399.6 1260.8,399.48 1261.3,399.6 1261.8,399.95 1262.3,400.53 1262.8,401.34 1263.3,402.39 1263.8,403.68 1264.3,405.21 1264.8,406.98 1265.3,408.98 1265.8,411.23 1266.3,413.73 1266.8,416.44 1267.3,419.35 1267.8,422.39 1268.3,425.54 1268.8,428.74 1269.3,431.96 1269.8,435.13 1270.3,438.12 1270.8,440.72 1271.3,442.74 1271.8,444 1272.3,444.43 1272.8,444.13 1273.3,443.21 1273.8,441.81 1274.3,440.01 1274.8,437.95 1275.3,435.74 1275.8,433.49 1276.3,431.31 1276.8,429.26 1277.3,427.38 1277.8,425.68 1278.3,424.2 1278.8,422.96 1279.3,421.98 1279.8,421.3 1280.3,420.93 1280.8,420.91 1281.3,421.25 1281.8,421.99 1282.3,423.11 1282.8,424.57 1283.3,426.32 1283.8,428.33 1284.3,430.56 1284.8,432.97 1285.3,435.5 1285.8,438.13 1286.3,440.81 1286.8,443.44 1287.3,445.89 1287.8,448.04 1288.3,449.74 1288.8,450.87 1289.3,451.3 1289.8,450.93 1290.3,449.84 1290.8,448.15 1291.3,445.98 1291.8,443.45 1292.3,440.67 1292.8,437.77 1293.3,434.85 1293.8,432.05 1294.3,429.44 1294.8,426.99 1295.3,424.68 1295.8,422.47 1296.3,420.33 1296.8,418.23 1297.3,416.13 1297.8,414 1298.3,411.82 1298.8,409.57 1299.3,407.28 1299.8,404.99 1300.3,402.73 1300.8,400.52 1301.3,398.4 1301.8,396.41 1302.3,394.56 1302.8,392.9 1303.3,391.45 1303.8,390.25 1304.3,389.28 1304.8,388.46 1305.3,387.72 1305.8,386.99 1306.3,386.19 1306.8,385.24 1307.3,384.07 1307.8,382.59 1308.3,380.75 1308.8,378.58 1309.3,376.21 1309.8,373.78 1310.3,371.42 1310.8,369.27 1311.3,367.46 1311.8,366.11 1312.3,365.36 1312.8,365.34 1313.3,366.01 1313.8,367.32 1314.3,369.17 1314.8,371.5 1315.3,374.24 1315.8,377.3 1316.3,380.61 1316.8,384.1 1317.3,387.68 1317.8,391.25 1318.3,394.67 1318.8,397.82 1319.3,400.59 1319.8,402.84 1320.3,404.47 1320.8,405.48 1321.3,406.06 1321.8,406.41 1322.3,406.73 1322.8,407.22 1323.3,408.07 1323.8,409.45 1324.3,411.3 1324.8,413.46 1325.3,415.75 1325.8,418.02 1326.3,420.09 1326.8,421.81 1327.3,423.06 1327.8,423.89 1328.3,424.36 1328.8,424.51 1329.3,424.4 1329.8,424.08 1330.3,423.62 1330.8,423.07 1331.3,422.48 1331.8,421.91 1332.3,421.41 1332.8,421.01 1333.3,420.7 1333.8,420.45 1334.3,420.22 1334.8,419.98 1335.3,419.72 1335.8,419.39 1336.3,418.98 1336.8,418.44 1337.3,417.77 1337.8,416.91 1338.3,415.87 1338.8,414.66 1339.3,413.3 1339.8,411.8 1340.3,410.21 1340.8,408.52 1341.3,406.77 1341.8,404.98 1342.3,403.17 1342.8,401.35 1343.3,399.51 1343.8,397.64 1344.3,395.74 1344.8,393.79 1345.3,391.8 1345.8,389.74 1346.3,387.61 1346.8,385.41 1347.3,383.16 1347.8,380.95 1348.3,378.86 1348.8,376.96 1349.3,375.34 1349.8,374.09 1350.3,373.28 1350.8,373 1351.3,373.3 1351.8,374.15 1352.3,375.46 1352.8,377.18 1353.3,379.23 1353.8,381.54 1354.3,384.04 1354.8,386.66 1355.3,389.34 1355.8,392 1356.3,394.58 1356.8,397.08 1357.3,399.49 1357.8,401.8 1358.3,404.02 1358.8,406.14 1359.3,408.17 1359.8,410.1 1360.3,411.93 1360.8,413.66 1361.3,415.28 1361.8,416.8 1362.3,418.21 1362.8,419.5 1363.3,420.69 1363.8,421.75 1364.3,422.69 1364.8,423.51 1365.3,424.2 1365.8,424.75 1366.3,425.17 1366.8,425.46 1367.3,425.6 1367.8,425.59 1368.3,425.44 1368.8,425.14 1369.3,424.68 1369.8,424.06 1370.3,423.28 1370.8,422.33 1371.3,421.27 1371.8,420.12 1372.3,418.95 1372.8,417.8 1373.3,416.71 1373.8,415.75 1374.3,414.96 1374.8,414.39 1375.3,414.09 1375.8,414.1 1376.3,414.46 1376.8,415.14 1377.3,416.08 1377.8,417.23 1378.3,418.55 1378.8,419.96 1379.3,421.43 1379.8,422.91 1380.3,424.33 1380.8,425.65 1381.3,426.82 1381.8,427.81 1382.3,428.66 1382.8,429.43 1383.3,430.17 1383.8,430.92 1384.3,431.74 1384.8,432.67 1385.3,433.77 1385.8,435.09 1386.3,436.68 1386.8,438.58 1387.3,440.81 1387.8,443.34 1388.3,446.16 1388.8,449.25 1389.3,452.59 1389.8,456.16 1390.3,459.94 1390.8,463.9 1391.3,468.04 1391.8,472.33 1392.3,476.75 1392.8,481.31 1393.3,486.01 1393.8,490.88 1394.3,495.92 1394.8,501.14 1395.3,506.55 1395.8,512.18 1396.3,518.02 1396.8,524.09 1397.3,530.4 1397.8,536.91 1398.3,543.38 1398.8,549.49 1399.3,554.95 1399.8,559.46 1400.3,562.71 1400.8,564.4 1401.3,564.31 1401.8,562.54 1402.3,559.26 1402.8,554.65 1403.3,548.89 1403.8,542.16 1404.3,534.62 1404.8,526.46 1405.3,517.85 1405.8,508.98 1406.3,500.01 1406.8,491.1 1407.3,482.36 1407.8,473.87 1408.3,465.75 1408.8,458.08 1409.3,450.97 1409.8,444.5 1410.3,438.77 1410.8,433.84 1411.3,429.76 1411.8,426.59 1412.3,424.37 1412.8,423.15 1413.3,423 1413.8,423.94 1414.3,425.9 1414.8,428.73 1415.3,432.3 1415.8,436.47 1416.3,441.1 1416.8,446.06 1417.3,451.2 1417.8,456.43 1418.3,461.63 1418.8,466.72 1419.3,471.6 1419.8,476.17 1420.3,480.34 1420.8,484.02 1421.3,487.1 1421.8,489.49 1422.3,491.1 1422.8,491.87 1423.3,491.89 1423.8,491.29 1424.3,490.21 1424.8,488.78 1425.3,487.13 1425.8,485.39 1426.3,483.69 1426.8,482.17 1427.3,480.96 1427.8,480.19 1428.3,479.91 1428.8,480.01 1429.3,480.36 1429.8,480.82 1430.3,481.24 1430.8,481.51 1431.3,481.46 1431.8,480.98 1432.3,479.93 1432.8,478.16 1433.3,475.54 1433.8,472.02 1434.3,467.63 1434.8,462.4 1435.3,456.39 1435.8,449.64 1436.3,442.19 1436.8,434.08 1437.3,425.44 1437.8,416.49 1438.3,407.46 1438.8,398.59 1439.3,390.09 1439.8,382.21 1440.3,375.17 1440.8,369.13 1441.3,364.05 1441.8,359.91 1442.3,356.64 1442.8,354.2 1443.3,352.55 1443.8,351.63 1444.3,351.41 1444.8,351.83 1445.3,352.88 1445.8,354.57 1446.3,356.91 1446.8,359.91 1447.3,363.57 1447.8,367.9 1448.3,372.92 1448.8,378.63 1449.3,385.04 1449.8,392.12 1450.3,399.79 1450.8,407.94 1451.3,416.47 1451.8,425.28 1452.3,434.26 1452.8,443.3 1453.3,452.32 1453.8,461.19 1454.3,469.83 1454.8,478.13 1455.3,486.03 1455.8,493.47 1456.3,500.43 1456.8,506.85 1457.3,512.69 1457.8,517.92 1458.3,522.49 1458.8,526.36 1459.3,529.49 1459.8,531.83 1460.3,533.36 1460.8,534.1 1461.3,534.14 1461.8,533.54 1462.3,532.36 1462.8,530.67 1463.3,528.56 1463.8,526.07 1464.3,523.29 1464.8,520.27 1465.3,517.1 1465.8,513.83 1466.3,510.54 1466.8,507.3 1467.3,504.16 1467.8,501.18 1468.3,498.35 1468.8,495.67 1469.3,493.12 1469.8,490.72 1470.3,488.45 1470.8,486.31 1471.3,484.3 1471.8,482.41 1472.3,480.64 1472.8,478.99 1473.3,477.46 1473.8,476.07 1474.3,474.83 1474.8,473.75 1475.3,472.85 1475.8,472.13 1476.3,471.62 1476.8,471.32 1477.3,471.24 1477.8,471.4 1478.3,471.81 1478.8,472.46 1479.3,473.34 1479.8,474.46 1480.3,475.79 1480.8,477.34 1481.3,479.09 1481.8,481.04 1482.3,483.19 1482.8,485.51 1483.3,488.01 1483.8,490.68 1484.3,493.49 1484.8,496.42 1485.3,499.45 1485.8,502.56 1486.3,505.72 1486.8,508.91 1487.3,512.11 1487.8,515.3 1488.3,518.45 1488.8,521.55 1489.3,524.57 1489.8,527.48 1490.3,530.28 1490.8,532.92 1491.3,535.4 1491.8,537.68 1492.3,539.76 1492.8,541.6 1493.3,543.18 1493.8,544.48" fill="none" stroke="#ff0000" stroke-width="4" stroke-dasharray="19.5 4.8 5 4.7" stroke-linejoin="round"/>
<line x1="975.5" y1="628" x2="982.1" y2="628" stroke="#555555" stroke-width="1.6"/>
<line x1="1553.9" y1="628" x2="1560.5" y2="628" stroke="#2b2b55" stroke-width="1.6"/>
<line x1="975.5" y1="564" x2="982.1" y2="564" stroke="#555555" stroke-width="1.6"/>
<line x1="1553.9" y1="564" x2="1560.5" y2="564" stroke="#2b2b55" stroke-width="1.6"/>
<line x1="975.5" y1="500" x2="982.1" y2="500" stroke="#555555" stroke-width="1.6"/>
<line x1="1553.9" y1="500" x2="1560.5" y2="500" stroke="#2b2b55" stroke-width="1.6"/>
<line x1="975.5" y1="436" x2="982.1" y2="436" stroke="#555555" stroke-width="1.6"/>
<line x1="1553.9" y1="436" x2="1560.5" y2="436" stroke="#2b2b55" stroke-width="1.6"/>
<line x1="975.5" y1="372" x2="982.1" y2="372" stroke="#555555" stroke-width="1.6"/>
<line x1="1553.9" y1="372" x2="1560.5" y2="372" stroke="#2b2b55" stroke-width="1.6"/>
<line x1="975.5" y1="308" x2="982.1" y2="308" stroke="#555555" stroke-width="1.6"/>
<line x1="1553.9" y1="308" x2="1560.5" y2="308" stroke="#2b2b55" stroke-width="1.6"/>
<line x1="975.5" y1="244" x2="982.1" y2="244" stroke="#555555" stroke-width="1.6"/>
<line x1="1553.9" y1="244" x2="1560.5" y2="244" stroke="#2b2b55" stroke-width="1.6"/>
<line x1="975.5" y1="180" x2="982.1" y2="180" stroke="#555555" stroke-width="1.6"/>
<line x1="1553.9" y1="180" x2="1560.5" y2="180" stroke="#2b2b55" stroke-width="1.6"/>
<line x1="975.5" y1="116" x2="982.1" y2="116" stroke="#555555" stroke-width="1.6"/>
<line x1="1553.9" y1="116" x2="1560.5" y2="116" stroke="#2b2b55" stroke-width="1.6"/>
<line x1="975.5" y1="52" x2="982.1" y2="52" stroke="#555555" stroke-width="1.6"/>
<line x1="1553.9" y1="52" x2="1560.5" y2="52" stroke="#2b2b55" stroke-width="1.6"/>
<line x1="975.5" y1="52" x2="975.5" y2="58.6" stroke="#555555" stroke-width="1.6"/>
<line x1="975.5" y1="621.4" x2="975.5" y2="628" stroke="#555555" stroke-width="1.6"/>
<line x1="1073" y1="52" x2="1073" y2="58.6" stroke="#555555" stroke-width="1.6"/>
<line x1="1073" y1="621.4" x2="1073" y2="628" stroke="#555555" stroke-width="1.6"/>
<line x1="1170.5" y1="52" x2="1170.5" y2="58.6" stroke="#555555" stroke-width="1.6"/>
<line x1="1170.5" y1="621.4" x2="1170.5" y2="628" stroke="#555555" stroke-width="1.6"/>
<line x1="1268" y1="52" x2="1268" y2="58.6" stroke="#555555" stroke-width="1.6"/>
<line x1="1268" y1="621.4" x2="1268" y2="628" stroke="#555555" stroke-width="1.6"/>
<line x1="1365.5" y1="52" x2="1365.5" y2="58.6" stroke="#555555" stroke-width="1.6"/>
<line x1="1365.5" y1="621.4" x2="1365.5" y2="628" stroke="#555555" stroke-width="1.6"/>
<line x1="1463" y1="52" x2="1463" y2="58.6" stroke="#555555" stroke-width="1.6"/>
<line x1="1463" y1="621.4" x2="1463" y2="628" stroke="#555555" stroke-width="1.6"/>
<line x1="1560.5" y1="52" x2="1560.5" y2="58.6" stroke="#555555" stroke-width="1.6"/>
<line x1="1560.5" y1="621.4" x2="1560.5" y2="628" stroke="#555555" stroke-width="1.6"/>
<path d="M1560.5,52 H975.5 V628 H1560.5" fill="none" stroke="#555555" stroke-width="1.6"/>
<line x1="1560.5" y1="52" x2="1560.5" y2="628" stroke="#2b2b55" stroke-width="1.5"/>
<line x1="1658" y1="52" x2="1658" y2="628" stroke="#ff3a3a" stroke-width="1.3"/>
<line x1="1650.8" y1="52" x2="1658" y2="52" stroke="#ff3a3a" stroke-width="1.3"/>
<line x1="1650.8" y1="148" x2="1658" y2="148" stroke="#ff3a3a" stroke-width="1.3"/>
<line x1="1650.8" y1="244" x2="1658" y2="244" stroke="#ff3a3a" stroke-width="1.3"/>
<line x1="1650.8" y1="340" x2="1658" y2="340" stroke="#ff3a3a" stroke-width="1.3"/>
<line x1="1650.8" y1="436" x2="1658" y2="436" stroke="#ff3a3a" stroke-width="1.3"/>
<line x1="1650.8" y1="532" x2="1658" y2="532" stroke="#ff3a3a" stroke-width="1.3"/>
<line x1="1650.8" y1="628" x2="1658" y2="628" stroke="#ff3a3a" stroke-width="1.3"/>
<text x="974.9" y="669.3" text-anchor="middle" class="tk">-1</text>
<text x="1073" y="669.3" text-anchor="middle" class="tk">0</text>
<text x="1170.5" y="669.3" text-anchor="middle" class="tk">1</text>
<text x="1268" y="669.3" text-anchor="middle" class="tk">2</text>
<text x="1365.5" y="669.3" text-anchor="middle" class="tk">3</text>
<text x="1463" y="669.3" text-anchor="middle" class="tk">4</text>
<text x="1560.5" y="669.3" text-anchor="middle" class="tk">5</text>
<text x="965" y="63.8" text-anchor="end" class="tk">9</text>
<text x="965" y="191.8" text-anchor="end" class="tk">6</text>
<text x="965" y="319.8" text-anchor="end" class="tk">3</text>
<text x="965" y="447.8" text-anchor="end" class="tk">0</text>
<text x="965" y="575.8" text-anchor="end" class="tk">-3</text>
<text x="1569.7" y="63.8" class="tk" fill="#0000ff">3</text>
<text x="1569.7" y="191.8" class="tk" fill="#0000ff">2</text>
<text x="1569.7" y="319.8" class="tk" fill="#0000ff">1</text>
<text x="1569.7" y="447.8" class="tk" fill="#0000ff">0</text>
<text x="1569.7" y="575.8" class="tk" fill="#0000ff">-1</text>
<text x="1667" y="63.8" class="tk" fill="#ff0000">400</text>
<text x="1667" y="159.8" class="tk" fill="#ff0000">300</text>
<text x="1667" y="255.8" class="tk" fill="#ff0000">200</text>
<text x="1667" y="351.8" class="tk" fill="#ff0000">100</text>
<text x="1667" y="447.8" class="tk" fill="#ff0000">0</text>
<text x="1667" y="543.8" class="tk" fill="#ff0000">-100</text>
<text x="1667" y="639.8" class="tk" fill="#ff0000">-200</text>
<text transform="translate(10 35.05) scale(0.956 1)" font-family="'Liberation Sans', sans-serif" font-size="34.85" fill="#000" font-weight="bold">A</text>
<text transform="translate(883.32 34.4) scale(0.988 1)" font-family="'Liberation Sans', sans-serif" font-size="34.35" fill="#000" font-weight="bold">B</text>
<text transform="translate(326.78 712.64) scale(0.994 1)" font-family="'Liberation Serif', serif" font-size="35.61" fill="#000" font-style="italic">t</text>
<text transform="translate(346.42 712.43) scale(1.043 1)" font-family="'Liberation Serif', serif" font-size="35.56" fill="#000">(ms)</text>
<text transform="translate(1228.74 707.64) scale(1.011 1)" font-family="'Liberation Serif', serif" font-size="36.14" fill="#000" font-style="italic">t</text>
<text transform="translate(1248.44 707.13) scale(1.029 1)" font-family="'Liberation Serif', serif" font-size="35.56" fill="#000">(ms)</text>
<text transform="translate(36.05 452.06) rotate(-90) scale(1.206 1)" font-family="'Liberation Serif', serif" font-size="43.64" fill="#000" stroke="#fff" stroke-width="0.7">Δ</text>
<text transform="translate(36.67 413.99) rotate(-90) scale(0.895 1)" font-family="'Liberation Serif', serif" font-size="40.60" fill="#000" font-style="italic" stroke="#fff" stroke-width="0.2">y</text>
<text transform="translate(42.82 396.63) rotate(-90) scale(1.167 1)" font-family="'Liberation Serif', serif" font-size="27.92" fill="#000" font-style="italic" stroke="#fff" stroke-width="0.2">s</text>
<text transform="translate(37.04 378.86) rotate(-90) scale(0.933 1)" font-family="'Liberation Serif', serif" font-size="45.78" fill="#000" stroke="#fff" stroke-width="0.7">(</text>
<text transform="translate(36.95 365.21) rotate(-90) scale(1.075 1)" font-family="'Liberation Serif', serif" font-size="40.21" fill="#000" stroke="#fff" stroke-width="0.7">mm</text>
<text transform="translate(37.08 297.4) rotate(-90) scale(0.844 1)" font-family="'Liberation Serif', serif" font-size="45.56" fill="#000" stroke="#fff" stroke-width="0.7">)</text>
<text transform="translate(933.65 452.06) rotate(-90) scale(1.182 1)" font-family="'Liberation Serif', serif" font-size="44.55" fill="#000" stroke="#fff" stroke-width="0.7">Δ</text>
<text transform="translate(934.05 413.99) rotate(-90) scale(0.937 1)" font-family="'Liberation Serif', serif" font-size="38.81" fill="#000" font-style="italic" stroke="#fff" stroke-width="0.2">y</text>
<text transform="translate(939.42 395.3) rotate(-90) scale(0.983 1)" font-family="'Liberation Serif', serif" font-size="27.06" fill="#000" font-style="italic" stroke="#fff" stroke-width="0.2">g</text>
<text transform="translate(934.34 378.86) rotate(-90) scale(0.933 1)" font-family="'Liberation Serif', serif" font-size="45.78" fill="#000" stroke="#fff" stroke-width="0.7">(</text>
<text transform="translate(934.25 365.21) rotate(-90) scale(1.075 1)" font-family="'Liberation Serif', serif" font-size="40.21" fill="#000" stroke="#fff" stroke-width="0.7">mm</text>
<text transform="translate(934.38 297.4) rotate(-90) scale(0.844 1)" font-family="'Liberation Serif', serif" font-size="45.56" fill="#000" stroke="#fff" stroke-width="0.7">)</text>
<text transform="translate(724.89 435.16) rotate(-90) scale(1.060 1)" font-family="'Liberation Serif', serif" font-size="40.64" fill="#0000ff" font-style="italic" stroke="#fff" stroke-width="0.2">v</text>
<text transform="translate(730.81 414.34) rotate(-90) scale(1.173 1)" font-family="'Liberation Serif', serif" font-size="28.75" fill="#0000ff" font-style="italic" stroke="#fff" stroke-width="0.2">s</text>
<text transform="translate(725.54 396.03) rotate(-90) scale(0.865 1)" font-family="'Liberation Serif', serif" font-size="45.78" fill="#0000ff" stroke="#fff" stroke-width="0.7">(</text>
<text transform="translate(725.75 382.31) rotate(-90) scale(1.038 1)" font-family="'Liberation Serif', serif" font-size="41.28" fill="#0000ff" stroke="#fff" stroke-width="0.7">m</text>
<text transform="translate(733.94 346.85) rotate(-90) scale(0.925 1)" font-family="'Liberation Serif', serif" font-size="61.36" fill="#0000ff" stroke="#fff" stroke-width="0.7">/</text>
<text transform="translate(725.32 329.89) rotate(-90) scale(1.020 1)" font-family="'Liberation Serif', serif" font-size="42.71" fill="#0000ff" stroke="#fff" stroke-width="0.7">s</text>
<text transform="translate(725.46 312.33) rotate(-90) scale(0.859 1)" font-family="'Liberation Serif', serif" font-size="45.67" fill="#0000ff" stroke="#fff" stroke-width="0.7">)</text>
<text transform="translate(1621.91 435.73) rotate(-90) scale(1.082 1)" font-family="'Liberation Serif', serif" font-size="38.51" fill="#0000ff" font-style="italic" stroke="#fff" stroke-width="0.2">v</text>
<text transform="translate(1628.09 415.6) rotate(-90) scale(1.142 1)" font-family="'Liberation Serif', serif" font-size="27.21" fill="#0000ff" font-style="italic" stroke="#fff" stroke-width="0.2">g</text>
<text transform="translate(1623.04 395.16) rotate(-90) scale(0.823 1)" font-family="'Liberation Serif', serif" font-size="45.78" fill="#0000ff" stroke="#fff" stroke-width="0.7">(</text>
<text transform="translate(1622.55 382.02) rotate(-90) scale(1.096 1)" font-family="'Liberation Serif', serif" font-size="39.57" fill="#0000ff" stroke="#fff" stroke-width="0.7">m</text>
<text transform="translate(1631.55 346.25) rotate(-90) scale(0.975 1)" font-family="'Liberation Serif', serif" font-size="60.45" fill="#0000ff" stroke="#fff" stroke-width="0.7">/</text>
<text transform="translate(1622.93 329.3) rotate(-90) scale(1.053 1)" font-family="'Liberation Serif', serif" font-size="41.67" fill="#0000ff" stroke="#fff" stroke-width="0.7">s</text>
<text transform="translate(1622.7 311.77) rotate(-90) scale(0.906 1)" font-family="'Liberation Serif', serif" font-size="45.00" fill="#0000ff" stroke="#fff" stroke-width="0.7">)</text>
<text transform="translate(841.72 411.27) rotate(-90) scale(1.030 1)" font-family="'Liberation Serif', serif" font-size="37.71" fill="#ff0000" font-style="italic" stroke="#fff" stroke-width="0.2">a</text>
<text transform="translate(848.02 389.14) rotate(-90) scale(1.227 1)" font-family="'Liberation Serif', serif" font-size="27.71" fill="#ff0000" font-style="italic" stroke="#fff" stroke-width="0.2">s</text>
<text transform="translate(842.41 370.36) rotate(-90) scale(0.829 1)" font-family="'Liberation Serif', serif" font-size="45.44" fill="#ff0000" stroke="#fff" stroke-width="0.7">(</text>
<text transform="translate(842.91 358.03) rotate(-90) scale(1.112 1)" font-family="'Liberation Serif', serif" font-size="37.81" fill="#ff0000" stroke="#fff" stroke-width="0.7">g</text>
<text transform="translate(842.71 336.33) rotate(-90) scale(0.855 1)" font-family="'Liberation Serif', serif" font-size="45.89" fill="#ff0000" stroke="#fff" stroke-width="0.7">)</text>
<text transform="translate(1755.09 411.83) rotate(-90) scale(0.997 1)" font-family="'Liberation Serif', serif" font-size="41.04" fill="#ff0000" font-style="italic" stroke="#fff" stroke-width="0.2">a</text>
<text transform="translate(1759.95 391) rotate(-90) scale(1.218 1)" font-family="'Liberation Serif', serif" font-size="26.91" fill="#ff0000" font-style="italic" stroke="#fff" stroke-width="0.2">g</text>
<text transform="translate(1754.81 369.96) rotate(-90) scale(0.829 1)" font-family="'Liberation Serif', serif" font-size="45.44" fill="#ff0000" stroke="#fff" stroke-width="0.7">(</text>
<text transform="translate(1754.91 357.67) rotate(-90) scale(1.136 1)" font-family="'Liberation Serif', serif" font-size="37.81" fill="#ff0000" stroke="#fff" stroke-width="0.7">g</text>
<text transform="translate(1754.81 335.93) rotate(-90) scale(0.863 1)" font-family="'Liberation Serif', serif" font-size="45.44" fill="#ff0000" stroke="#fff" stroke-width="0.7">)</text>
<text transform="translate(514.64 251.05) scale(1.180 1)" font-family="'Liberation Serif', serif" font-size="40.45" fill="#000" stroke="#fff" stroke-width="0.7">Δ</text>
<text transform="translate(549.23 250.85) scale(0.914 1)" font-family="'Liberation Serif', serif" font-size="35.97" fill="#000" font-style="italic" stroke="#fff" stroke-width="0.2">y</text>
<text transform="translate(565.3 256.95) scale(1.180 1)" font-family="'Liberation Serif', serif" font-size="25.42" fill="#000" font-style="italic" stroke="#fff" stroke-width="0.2">s</text>
<text transform="translate(1333.41 291.25) scale(1.197 1)" font-family="'Liberation Serif', serif" font-size="40.45" fill="#000" stroke="#fff" stroke-width="0.7">Δ</text>
<text transform="translate(1368.09 291.31) scale(0.932 1)" font-family="'Liberation Serif', serif" font-size="36.12" fill="#000" font-style="italic" stroke="#fff" stroke-width="0.2">y</text>
<text transform="translate(1383.9 296.94) scale(1.092 1)" font-family="'Liberation Serif', serif" font-size="24.56" fill="#000" font-style="italic" stroke="#fff" stroke-width="0.2">g</text>
<text transform="translate(358.99 167.54) scale(1.119 1)" font-family="'Liberation Serif', serif" font-size="36.17" fill="#0000ff" font-style="italic" stroke="#fff" stroke-width="0.2">v</text>
<text transform="translate(378.49 172.95) scale(1.247 1)" font-family="'Liberation Serif', serif" font-size="25.21" fill="#0000ff" font-style="italic" stroke="#fff" stroke-width="0.2">s</text>
<text transform="translate(1283.87 94.83) scale(1.119 1)" font-family="'Liberation Serif', serif" font-size="37.02" fill="#0000ff" font-style="italic" stroke="#fff" stroke-width="0.2">v</text>
<text transform="translate(1302.9 99.92) scale(1.125 1)" font-family="'Liberation Serif', serif" font-size="25.15" fill="#0000ff" font-style="italic" stroke="#fff" stroke-width="0.2">g</text>
<text transform="translate(428.59 456.64) scale(1.104 1)" font-family="'Liberation Serif', serif" font-size="36.46" fill="#ff0000" font-style="italic" stroke="#fff" stroke-width="0.2">a</text>
<text transform="translate(449.39 461.75) scale(1.223 1)" font-family="'Liberation Serif', serif" font-size="25.00" fill="#ff0000" font-style="italic" stroke="#fff" stroke-width="0.2">s</text>
<text transform="translate(1347.08 467.33) scale(1.110 1)" font-family="'Liberation Serif', serif" font-size="36.67" fill="#ff0000" font-style="italic" stroke="#fff" stroke-width="0.2">a</text>
<text transform="translate(1368.1 472.77) scale(1.098 1)" font-family="'Liberation Serif', serif" font-size="24.41" fill="#ff0000" font-style="italic" stroke="#fff" stroke-width="0.2">g</text>
</svg>
</body></html>
